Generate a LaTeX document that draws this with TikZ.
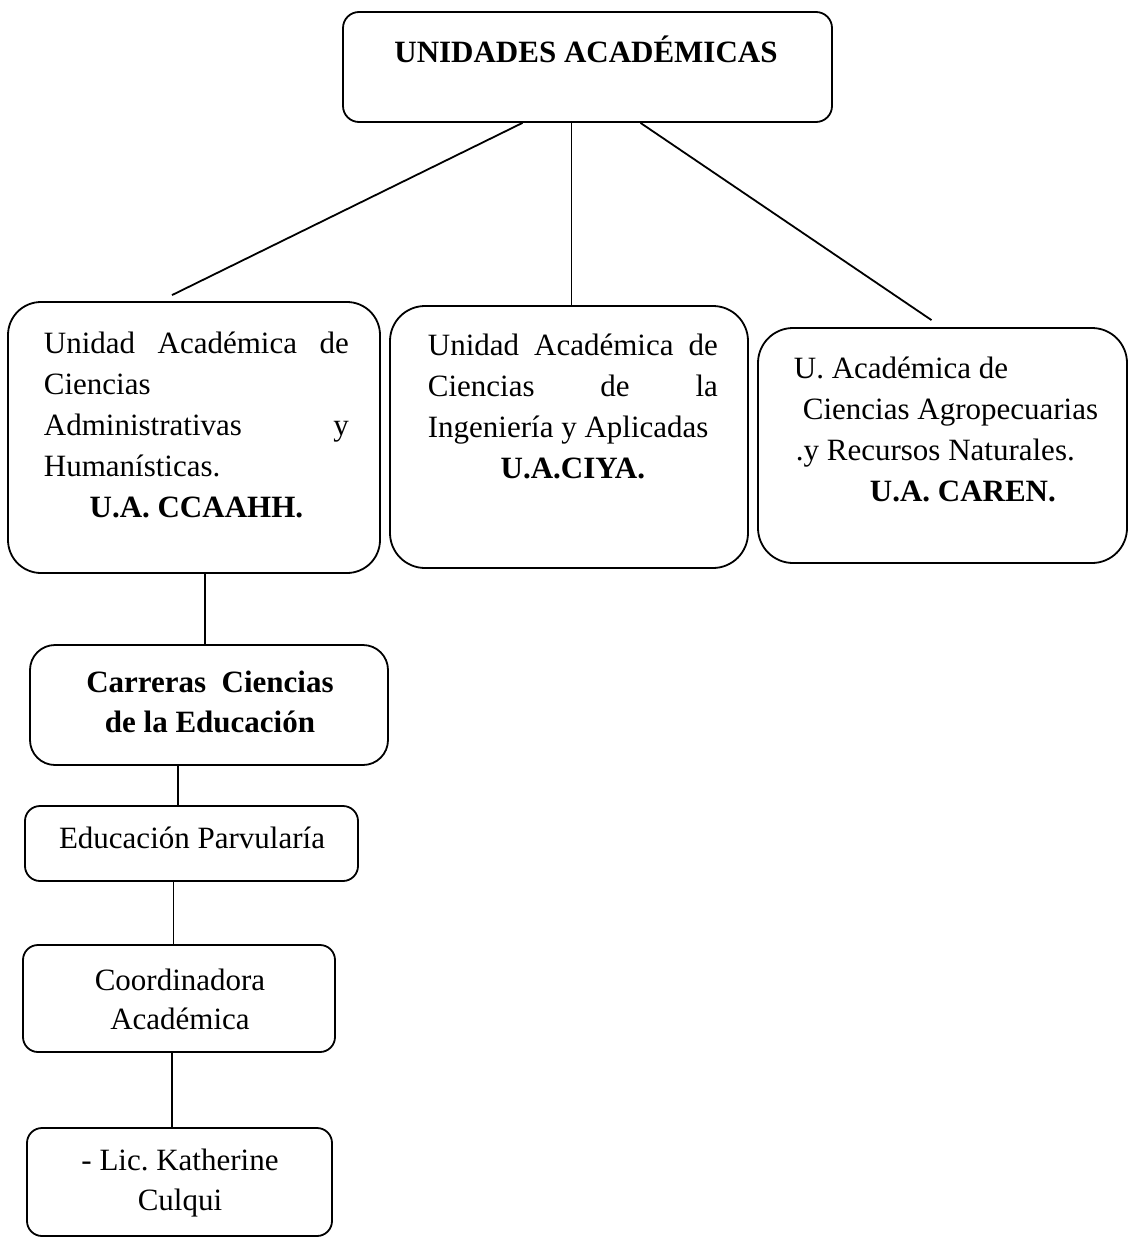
\documentclass[tikz,border=0pt]{standalone}
\usepackage{fontspec}
\setmainfont{Liberation Serif}
\frenchspacing

\tikzset{
  caja/.style={draw,rounded corners=#1,inner sep=0pt},
  caja/.default=15pt,
  txt/.style={inner sep=0pt,font=\fontsize{31}{41}\selectfont},
}

\begin{document}
\begin{tikzpicture}[x=1pt,y=-1pt,line width=1.8pt]
\useasboundingbox (0,0) rectangle (1128,1239);

\node (ua) [caja=16pt,minimum width=489,minimum height=110] at (587.5,67) {};
\node (uat) [txt,anchor=base] at (586,63) {\textbf{UNIDADES ACADÉMICAS}};

\node (ua1) [caja=33pt,minimum width=372,minimum height=271] at (194,437.5) {};
\node (ua1t) [txt,anchor=base west,text width=305,align=flush left] at (43,353)
  {Unidad\hfill Académica\hfill de\\
   Ciencias\\
   Administrativas\hfill y\\
   Humanísticas.\\
   \hfill\textbf{U.A. CCAAHH.}\hfill\null};

\node (ua2) [caja=35pt,minimum width=358,minimum height=262] at (569,437) {};
\node (ua2t) [txt,anchor=base west,text width=290,align=flush left] at (427,355)
  {Unidad\hfill Académica\hfill de\\
   Ciencias\hfill de\hfill la\\
   Ingeniería y Aplicadas\\
   \hfill\textbf{U.A.CIYA.}\hfill\null};

\node (ua3) [caja=35pt,minimum width=369,minimum height=235] at (942.5,445.5) {};
\node (ua3t) [txt,anchor=base west,text width=315,align=flush left] at (793,378)
  {U. Académica de\\
   \hspace*{9pt}Ciencias Agropecuarias\\
   \hspace*{2pt}.y Recursos Naturales.\\
   \hfill\hspace*{23pt}\textbf{U.A. CAREN.}\hfill\null};

\node (carreras) [caja=25pt,minimum width=358,minimum height=120] at (209,705) {};
\node (carrerast) [txt,anchor=base,align=center,font=\fontsize{31}{40}\selectfont\bfseries]
  at (210,732) {Carreras\ \ Ciencias\\de la Educación};

\node (parv) [caja,minimum width=333,minimum height=75] at (191.5,843.5) {};
\node (parvt) [txt,anchor=base] at (192,848) {Educación Parvularía};

\node (coord) [caja,minimum width=312,minimum height=107] at (179,998.5) {};
\node (coordt) [txt,anchor=base,align=center,font=\fontsize{31}{39}\selectfont]
  at (180,1029) {Coordinadora\\Académica};

\node (lic) [caja,minimum width=305,minimum height=108] at (179.5,1182) {};
\node (lict) [txt,anchor=base,align=center,font=\fontsize{31}{40}\selectfont]
  at (180,1210) {- Lic. Katherine\\Culqui};

\path (node cs:name=ua,anchor=south) +(-65,0) coordinate (uao1);
\path (node cs:name=ua1,anchor=north) +(-22,-6) coordinate (ua1i);
\draw (uao1) -- (ua1i);
\path (node cs:name=ua,anchor=south) +(-16,0) coordinate (uao2);
\draw (uao2) -- (uao2 |- ua2.north);
\path (node cs:name=ua,anchor=south) +(53,0) coordinate (uao3);
\path (node cs:name=ua3,anchor=north) +(-11,-7) coordinate (ua3i);
\draw (uao3) -- (ua3i);

\path (node cs:name=ua1,anchor=south) +(11,0) coordinate (ua1o);
\draw (ua1o) -- (ua1o |- carreras.north);
\path (node cs:name=carreras,anchor=south) +(-31,0) coordinate (cao);
\draw (cao) -- (cao |- parv.north);
\path (node cs:name=parv,anchor=south) +(-18,0) coordinate (pao);
\draw (pao) -- (pao |- coord.north);
\path (node cs:name=coord,anchor=south) +(-7,0) coordinate (coo);
\draw (coo) -- (coo |- lic.north);
\end{tikzpicture}
\end{document}
